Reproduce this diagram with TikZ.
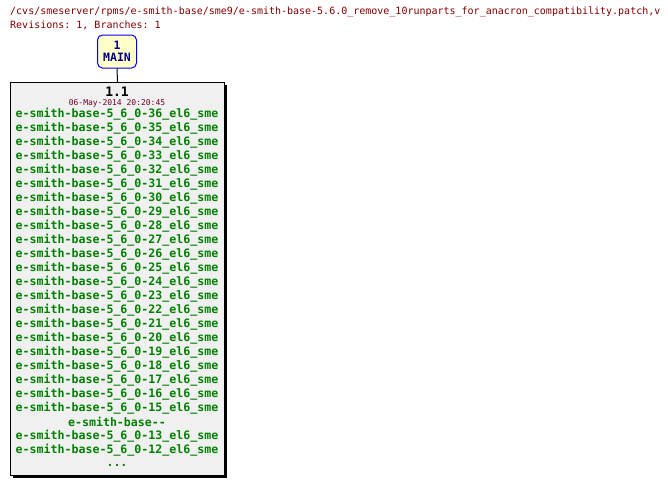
\documentclass[tikz,border=0pt]{standalone}
\usepackage{fontspec}
\setmonofont{DejaVu Sans Mono}
\usetikzlibrary{shadows}
\definecolor{pathred}{RGB}{128,0,0}
\definecolor{taggreen}{RGB}{0,128,0}
\definecolor{datered}{RGB}{110,0,40}
\definecolor{branchfill}{RGB}{255,255,200}
\definecolor{branchblue}{RGB}{0,0,140}
\definecolor{revfill}{RGB}{240,240,240}
\tikzset{
  header/.style={anchor=west, inner sep=0pt, text=pathred, font=\ttfamily\fontsize{10}{12}\selectfont},
  branchbox/.style={draw=blue, fill=branchfill, line width=1pt, rounded corners=5pt, minimum width=39pt, minimum height=33pt,
    inner sep=0pt, align=center, text=branchblue, font=\ttfamily\bfseries\fontsize{11.5}{13}\selectfont},
  revbox/.style={draw=black, fill=revfill, line width=1pt, anchor=north west, minimum width=214pt, minimum height=393pt,
    drop shadow={shadow xshift=2pt, shadow yshift=-2pt, opacity=1, fill=black}},
  tagline/.style={inner sep=0pt, text=taggreen, font=\ttfamily\bfseries\fontsize{11.6}{13}\selectfont},
}
\begin{document}
\begin{tikzpicture}[x=1pt,y=-1pt]
  \useasboundingbox (0,0) rectangle (668,485);
  % file path and summary
  \node[header] (path) at (10,12) {/cvs/smeserver/rpms/e-smith-base/sme9/e-smith-base-5.6.0\_remove\_10runparts\_for\_anacron\_compatibility.patch,v};
  \node[header] (summary) at (10,25) {Revisions: 1, Branches: 1};
  % branch
  \node[branchbox] (main) at (117,51.5) {1\\[-1pt]MAIN};
  % revision box
  \node[revbox] (rev) at (10,82) {};
  \draw[line width=1pt] (main.south) -- (rev.north);
  \node[inner sep=0pt, font=\ttfamily\bfseries\fontsize{13}{15}\selectfont] (revnum) at (117,92) {1.1};
  \node[inner sep=0pt, text=datered, font=\ttfamily\fontsize{8}{10}\selectfont] (date) at (117,103.5) {06-May-2014 20:20:45};
  % tags
  \foreach \n [count=\i from 0] in {36,35,...,15}
    \node[tagline] (tag\n) at (117,114+14*\i) {e-smith-base-5\_6\_0-\n\_el6\_sme};
  \node[tagline] (tagbase) at (117,422) {e-smith-base--};
  \node[tagline] (tag13) at (117,436) {e-smith-base-5\_6\_0-13\_el6\_sme};
  \node[tagline] (tag12) at (117,450) {e-smith-base-5\_6\_0-12\_el6\_sme};
  \node[tagline] (more) at (117,465) {...};
\end{tikzpicture}
\end{document}
